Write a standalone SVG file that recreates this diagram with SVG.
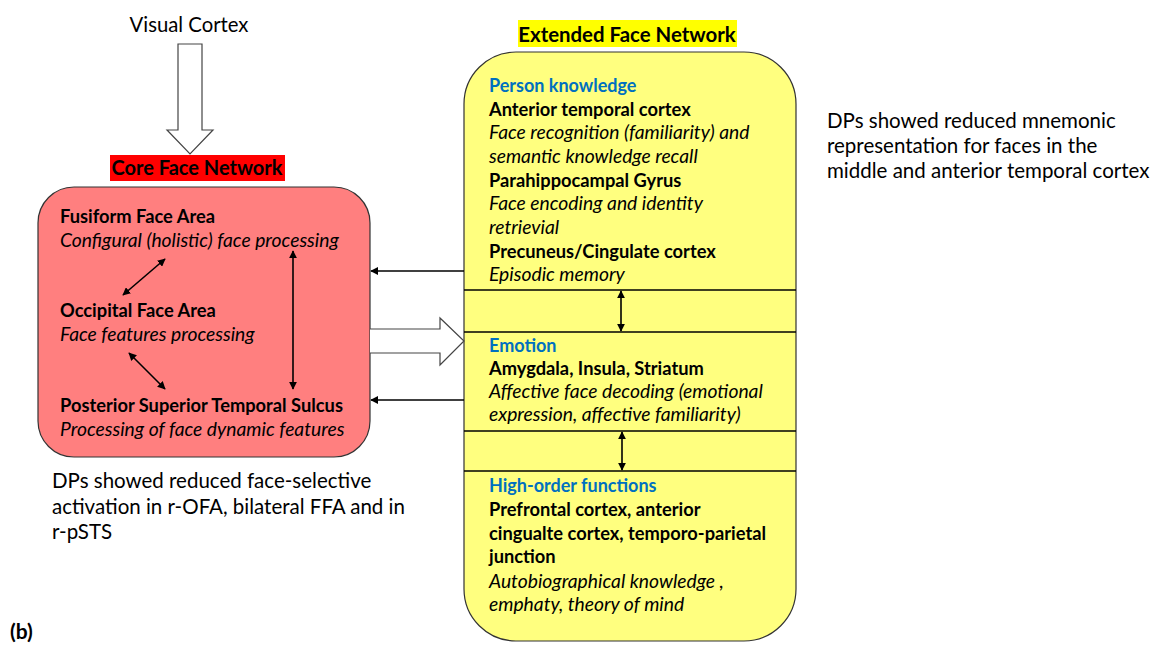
<svg xmlns="http://www.w3.org/2000/svg" width="1162" height="648" viewBox="0 0 1162 648">
<style>
text{font-family:Lato,"Liberation Sans",sans-serif;fill:#000}
.b{font-weight:bold;font-size:18.3px}
.i{font-style:italic;font-size:19.3px}
.h{fill:#0070C0;font-weight:bold;font-size:18px}
.n{font-size:20.5px}
.ln{stroke:#000;stroke-width:1.6;fill:none}
.hol{fill:#fff;stroke:#444;stroke-width:1.2}
</style>
<defs>
<marker id="ah" viewBox="0 0 10 10" refX="9" refY="5" markerWidth="5" markerHeight="5" orient="auto-start-reverse">
<path d="M0,0 L10,5 L0,10 z" fill="#000"/>
</marker>
</defs>
<rect width="1162" height="648" fill="#fff"/>

<g id="visual-cortex">
<text x="189" y="32" font-size="20.3" text-anchor="middle">Visual Cortex</text>
</g>

<g id="core-face-network">
<rect x="110" y="155" width="175" height="26" fill="#FF0000"/>
<text x="197" y="175" font-size="20" font-weight="bold" text-anchor="middle">Core Face Network</text>
<rect x="38" y="187" width="332" height="270" rx="36" ry="36" fill="#FF7F7F" stroke="#333" stroke-width="1.2"/>
<text class="b" x="60" y="223">Fusiform Face Area</text>
<text class="i" x="60" y="247">Configural (holistic) face processing</text>
<text class="b" x="60" y="317">Occipital Face Area</text>
<text class="i" x="60" y="341">Face features processing</text>
<text class="b" x="60" y="412">Posterior Superior Temporal Sulcus</text>
<text class="i" x="60" y="436">Processing of face dynamic features</text>
</g>

<g id="extended-face-network">
<rect x="518" y="20" width="219" height="27" fill="#FFFF00"/>
<text x="627" y="42" font-size="20.4" font-weight="bold" text-anchor="middle">Extended Face Network</text>
<rect x="464" y="52" width="332" height="589" rx="52" ry="52" fill="#FFFF7F" stroke="#333" stroke-width="1.2"/>
<line x1="464" y1="290" x2="796" y2="290" stroke="#000" stroke-width="1.5"/>
<line x1="464" y1="332" x2="796" y2="332" stroke="#000" stroke-width="1.5"/>
<line x1="464" y1="431" x2="796" y2="431" stroke="#000" stroke-width="1.5"/>
<line x1="464" y1="471" x2="796" y2="471" stroke="#000" stroke-width="1.5"/>
</g>

<g id="person-knowledge">
<text class="h" x="489" y="92">Person knowledge</text>
<text class="b" x="489" y="116">Anterior temporal cortex</text>
<text class="i" x="489" y="139">Face recognition (familiarity) and</text>
<text class="i" x="489" y="163">semantic knowledge recall</text>
<text class="b" x="489" y="187">Parahippocampal Gyrus</text>
<text class="i" x="489" y="210">Face encoding and identity</text>
<text class="i" x="489" y="234">retrievial</text>
<text class="b" x="489" y="258">Precuneus/Cingulate cortex</text>
<text class="i" x="489" y="281">Episodic memory</text>
</g>

<g id="emotion">
<text class="h" x="489" y="352">Emotion</text>
<text class="b" x="489" y="375">Amygdala, Insula, Striatum</text>
<text class="i" x="489" y="398">Affective face decoding (emotional</text>
<text class="i" x="489" y="421">expression, affective familiarity)</text>
</g>

<g id="high-order">
<text class="h" x="489" y="492">High-order functions</text>
<text class="b" x="489" y="516">Prefrontal cortex, anterior</text>
<text class="b" x="489" y="540">cingualte cortex, temporo-parietal</text>
<text class="b" x="489" y="563">junction</text>
<text class="i" x="489" y="588">Autobiographical knowledge ,</text>
<text class="i" x="489" y="611">emphaty, theory of mind</text>
</g>

<g id="note-right">
<text class="n" x="827" y="128">DPs showed reduced mnemonic</text>
<text class="n" x="827" y="153">representation for faces in the</text>
<text class="n" x="827" y="178">middle and anterior temporal cortex</text>
</g>

<g id="note-left">
<text class="n" x="52" y="488">DPs showed reduced face-selective</text>
<text class="n" x="52" y="514">activation in r-OFA, bilateral FFA and in</text>
<text class="n" x="52" y="539">r-pSTS</text>
</g>

<g id="label-b">
<text x="10" y="639" font-size="21" font-weight="bold">(b)</text>
</g>

<g id="connectors">
<path class="hol" d="M178,44 H202 V130 H213 L190,154 L167,130 H178 Z"/>
<path class="hol" d="M370,329 H440 V318 L464,341 L440,365 V353 H370"/>
<line class="ln" x1="123" y1="295" x2="165" y2="259" marker-start="url(#ah)" marker-end="url(#ah)"/>
<line class="ln" x1="129" y1="353" x2="165" y2="389" marker-start="url(#ah)" marker-end="url(#ah)"/>
<line class="ln" x1="293" y1="251" x2="293" y2="389" marker-start="url(#ah)" marker-end="url(#ah)"/>
<line class="ln" x1="464" y1="271" x2="371" y2="271" marker-end="url(#ah)"/>
<line class="ln" x1="464" y1="400" x2="371" y2="400" marker-end="url(#ah)"/>
<line class="ln" x1="621" y1="291" x2="621" y2="331" marker-start="url(#ah)" marker-end="url(#ah)"/>
<line class="ln" x1="622" y1="432" x2="622" y2="470" marker-start="url(#ah)" marker-end="url(#ah)"/>
</g>
</svg>
